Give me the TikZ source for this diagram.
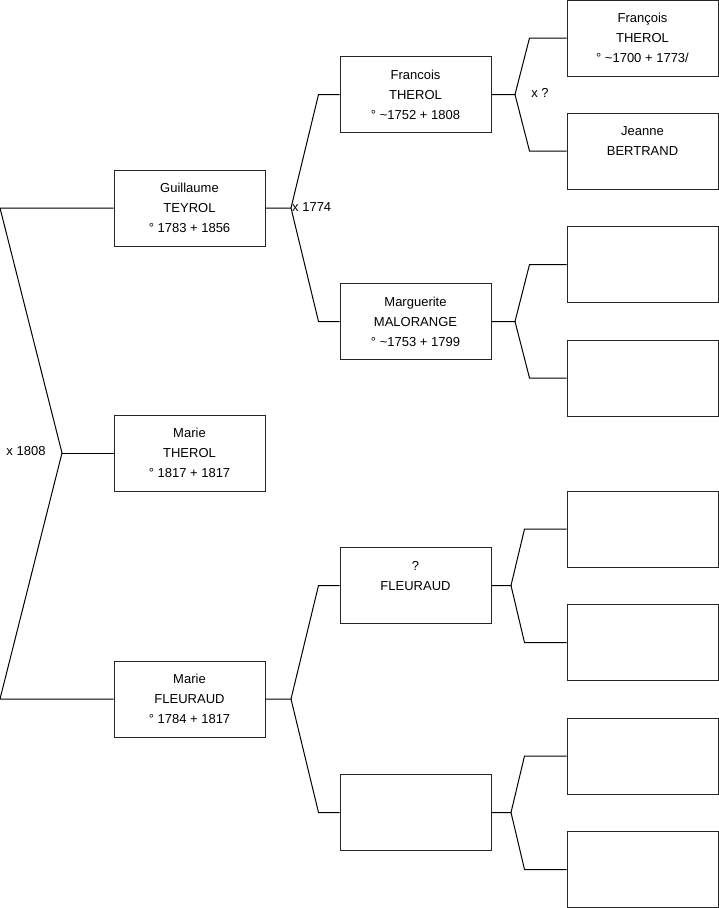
\documentclass[tikz,border=0pt]{standalone}
\usepackage{fontspec}
\setmainfont{Liberation Sans}
\usetikzlibrary{positioning,calc}

\begin{document}
\begin{tikzpicture}[
    x=1pt, y=-1pt,
    person/.style={rectangle, draw=black!85, line width=1pt, minimum width=151pt, minimum height=76pt, inner sep=0pt, font=\fontsize{13}{20}\selectfont, align=center},
    link/.style={line width=1pt, black},
    wed/.style={font=\fontsize{13}{16}\selectfont, inner sep=0pt}
]
    \useasboundingbox (0,0) rectangle (719,908);

    % generation 1
    \node[person] (guil) at (189.5,208) {Guillaume\\TEYROL\\° 1783 + 1856};
    \node[person] (marie) at (189.5,453) {Marie\\THEROL\\° 1817 + 1817};
    \node[person] (marief) at (189.5,699) {Marie\\FLEURAUD\\° 1784 + 1817};

    % generation 2
    \node[person] (franc) at (415.5,94.5) {Francois\\THEROL\\° \textasciitilde1752 + 1808};
    \node[person] (marg) at (415.5,321.5) {Marguerite\\MALORANGE\\° \textasciitilde1753 + 1799};
    \node[person] (fleur) at (415.5,585.5) {?\\FLEURAUD\\\mbox{}};
    \node[person] (empty) at (415.5,812.5) {};

    % generation 3
    \node[person] (franc2) at (642.5,38) {François\\THEROL\\° \textasciitilde1700 + 1773/};
    \node[person] (jeanne) at (642.5,151) {Jeanne\\BERTRAND\\\mbox{}};
    \node[person] (p3) at (642.5,264.5) {};
    \node[person] (p4) at (642.5,378) {};
    \node[person] (p5) at (642.5,529) {};
    \node[person] (p6) at (642.5,642.5) {};
    \node[person] (p7) at (642.5,756) {};
    \node[person] (p8) at (642.5,869.5) {};

    % fork points
    \coordinate (v0) at (62,453);
    \coordinate (v1) at (291,208);
    \coordinate (v2) at (515,94.5);
    \coordinate (v3) at (515,321.5);
    \coordinate (v4) at (291,699);
    \coordinate (v5) at (511,585.5);
    \coordinate (v6) at (511,812.5);

    % marriages
    \node[wed] (w0) at (26,451) {x 1808};
    \node[wed, anchor=west] (w1) at (292,207) {x 1774};
    \node[wed] (w2) at (540,93) {x ?};

    \draw[link] (guil.west) -- (0,208) -- (v0) -- (0,699) -- (marief.west);
    \draw[link] (v0) -- (marie.west);

    \draw[link] (guil.east) -- (v1) -- ($(franc.west)+(-21,0)$) -- (franc.west);
    \draw[link] (v1) -- ($(marg.west)+(-21,0)$) -- (marg.west);
    \draw[link] (marief.east) -- (v4) -- ($(fleur.west)+(-21,0)$) -- (fleur.west);
    \draw[link] (v4) -- ($(empty.west)+(-21,0)$) -- (empty.west);

    \draw[link] (franc.east) -- (v2) -- ($(franc2.west)+(-37,0)$) -- (franc2.west);
    \draw[link] (v2) -- ($(jeanne.west)+(-37,0)$) -- (jeanne.west);
    \draw[link] (marg.east) -- (v3) -- ($(p3.west)+(-37,0)$) -- (p3.west);
    \draw[link] (v3) -- ($(p4.west)+(-37,0)$) -- (p4.west);
    \draw[link] (fleur.east) -- (v5) -- ($(p5.west)+(-42,0)$) -- (p5.west);
    \draw[link] (v5) -- ($(p6.west)+(-42,0)$) -- (p6.west);
    \draw[link] (empty.east) -- (v6) -- ($(p7.west)+(-42,0)$) -- (p7.west);
    \draw[link] (v6) -- ($(p8.west)+(-42,0)$) -- (p8.west);
\end{tikzpicture}
\end{document}
